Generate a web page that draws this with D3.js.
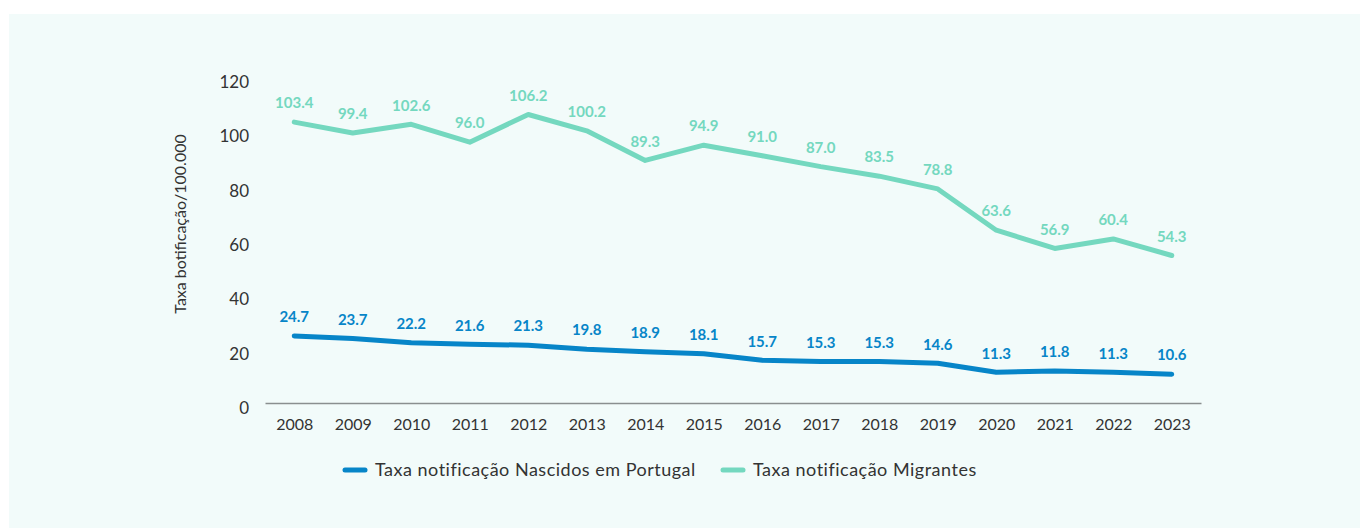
<!DOCTYPE html>
<html>
<head>
<meta charset="utf-8">
<script src="https://cdn.jsdelivr.net/npm/d3@7"></script>
<style>
  body { margin: 0; background: #fff; }
  svg { display: block; font-family: Lato, 'Open Sans', sans-serif; }
</style>
</head>
<body>
<div id="chart"></div>
<script>
const years = ['2008','2009','2010','2011','2012','2013','2014','2015','2016','2017','2018','2019','2020','2021','2022','2023']
const nascidos   = [24.7, 23.7, 22.2, 21.6, 21.3, 19.8, 18.9, 18.1, 15.7, 15.3, 15.3, 14.6, 11.3, 11.8, 11.3, 10.6]
const migrantes  = [103.4, 99.4, 102.6, 96.0, 106.2, 100.2, 89.3, 94.9, 91.0, 87.0, 83.5, 78.8, 63.6, 56.9, 60.4, 54.3]
const yTicks = [0, 20, 40, 60, 80, 100, 120]
const seriesNames = ['Taxa notificação Nascidos em Portugal', 'Taxa notificação Migrantes']
const yTitle = 'Taxa botificação/100.000'

const COLORS = ['#0785c8', '#74d8bf']

const W = 1360, H = 528
const svg = d3.select('#chart').append('svg').attr('width', W).attr('height', H)

// panel
svg.append('rect').attr('x', 9).attr('y', 14).attr('width', W - 9).attr('height', H - 14).attr('fill', '#f2fbfa')

const x = d3.scalePoint().domain(years).range([265, 1201]).padding(0.5)
const y = d3.scaleLinear().domain([0, 120]).range([403, 77])

// ── axes ─────────────────────────────────────────────
const gx = svg.append('g').attr('transform', `translate(0,${y(0)})`)
  .call(d3.axisBottom(x).tickSize(0).tickPadding(16))
gx.select('.domain').attr('stroke', '#8a8f8f').attr('stroke-width', 1.5)
gx.selectAll('text').attr('fill', '#333').style('font-size', '16px').style('font-family', 'Lato, sans-serif')

const gy = svg.append('g').attr('transform', 'translate(249,0)')
  .call(d3.axisLeft(y).tickValues(yTicks).tickSize(0).tickPadding(0))
gy.select('.domain').remove()
gy.selectAll('text').attr('fill', '#333').attr('dy', '0.62em').style('font-size', '17px').style('font-family', 'Lato, sans-serif')

svg.append('text')
  .attr('transform', 'translate(186,224) rotate(-90)')
  .attr('text-anchor', 'middle')
  .attr('fill', '#333')
  .style('font-size', '16px')
  .text(yTitle)

// ── lines + labels ───────────────────────────────────
const line = d3.line().x((d, i) => x(years[i])).y(d => y(d))

;[nascidos, migrantes].forEach((vals, k) => {
  svg.append('path')
    .attr('d', line(vals))
    .attr('fill', 'none')
    .attr('stroke', COLORS[k])
    .attr('stroke-width', 5)
    .attr('stroke-linecap', 'round')
    .attr('stroke-linejoin', 'round')

  svg.append('g').selectAll('text').data(vals).join('text')
    .attr('x', (d, i) => x(years[i]))
    .attr('y', d => y(d) - 19)
    .attr('dy', '0.35em')
    .attr('text-anchor', 'middle')
    .attr('fill', COLORS[k])
    .style('font-size', '15px')
    .style('font-weight', 'bold')
    .text(d => d.toFixed(1))
})

// ── legend ───────────────────────────────────────────
const legendX = [343, 721]
seriesNames.forEach((name, k) => {
  const g = svg.append('g').attr('transform', `translate(${legendX[k]},470)`)
  g.append('line').attr('x1', 2).attr('x2', 22).attr('y1', 0).attr('y2', 0)
    .attr('stroke', COLORS[k]).attr('stroke-width', 5).attr('stroke-linecap', 'round')
  g.append('text').attr('x', 32).attr('dy', '0.35em')
    .attr('fill', '#333').style('font-size', '18px').style('letter-spacing', '0.5px').text(name)
})
</script>
</body>
</html>
